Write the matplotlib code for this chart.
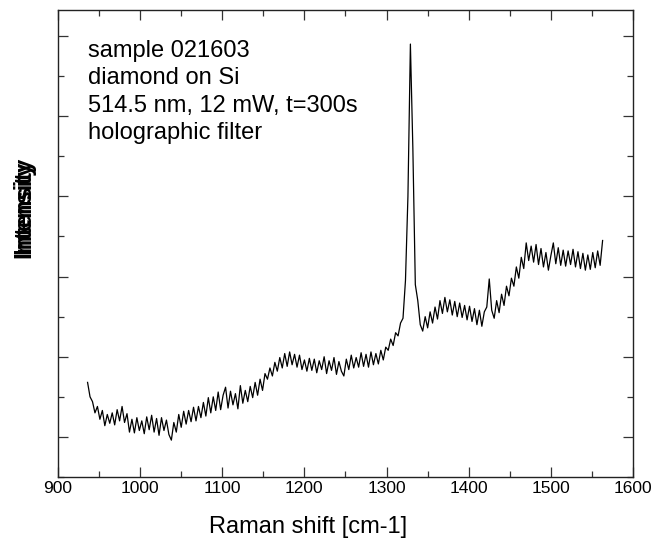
import matplotlib
matplotlib.use("Agg")
import matplotlib.pyplot as plt
from matplotlib import font_manager
from matplotlib.ticker import MultipleLocator

# ---------------- data ----------------
x_start = 936
x_step = 3
intensity = [
    0.68, 0.50, 0.44, 0.30, 0.38, 0.22, 0.33, 0.14, 0.28, 0.17,
    0.30, 0.15, 0.34, 0.20, 0.38, 0.18, 0.29, 0.06, 0.22, 0.05,
    0.24, 0.08, 0.20, 0.04, 0.25, 0.09, 0.27, 0.06, 0.23, 0.02,
    0.24, 0.08, 0.21, 0.03, -0.04, 0.18, 0.06, 0.28, 0.12,
    0.32, 0.16, 0.33, 0.19, 0.37, 0.20, 0.38, 0.24, 0.43, 0.26,
    0.49, 0.30, 0.50, 0.33, 0.56, 0.34, 0.52, 0.62, 0.36, 0.57,
    0.40, 0.54, 0.35, 0.64, 0.42, 0.58, 0.44, 0.63, 0.49, 0.68,
    0.52, 0.72, 0.58,
    0.79, 0.72, 0.86, 0.76, 0.93, 0.82, 0.99, 0.86, 1.04, 0.88,
    1.06, 0.90, 1.03, 0.87, 1.02, 0.84,
    0.96, 0.82, 0.98, 0.83, 0.97, 0.80, 0.95, 0.84, 1.00, 0.79,
    0.95, 0.83, 0.99, 0.78, 0.94, 0.82, 0.76, 0.97, 0.84, 1.02,
    0.86, 0.99, 0.87, 1.05, 0.88, 1.03, 0.87, 1.06, 0.90, 1.04,
    0.91, 1.08, 0.96,
    1.12, 1.08, 1.22, 1.14, 1.30, 1.26, 1.42, 1.48, 1.95, 3.00,
    4.90, 3.60, 1.90,
    1.70, 1.40, 1.32, 1.50, 1.36, 1.56, 1.42, 1.62, 1.47, 1.70,
    1.54, 1.74, 1.56, 1.71, 1.52, 1.69, 1.50, 1.67, 1.49, 1.64,
    1.46, 1.63, 1.44, 1.60, 1.40, 1.58, 1.38, 1.56,
    1.62, 1.97, 1.58, 1.48, 1.70, 1.55, 1.78, 1.64, 1.88, 1.76,
    1.98, 1.88, 2.12, 1.98, 2.24, 2.10,
    2.42, 2.20, 2.38, 2.18, 2.40, 2.15, 2.35, 2.12, 2.30, 2.08,
    2.26, 2.42, 2.16, 2.36, 2.14, 2.33, 2.13, 2.32, 2.15, 2.34,
    2.12, 2.31, 2.10, 2.29, 2.08, 2.27, 2.09, 2.30, 2.11, 2.32,
    2.14, 2.45,
]
raman_shift = [x_start + x_step * i for i in range(len(intensity))]

x_ticks = [900, 1000, 1100, 1200, 1300, 1400, 1500, 1600]
annotation_lines = ["sample 021603", "diamond on Si",
                    "514.5 nm, 12 mW, t=300s", "holographic filter"]
x_label = "Raman shift [cm-1]"
y_label = "Intensity"

# ---------------- fonts ----------------
installed = {f.name for f in font_manager.fontManager.ttflist}
main_font = "Liberation Sans" if "Liberation Sans" in installed else "DejaVu Sans"
narrow_font = "Liberation Sans Narrow" if "Liberation Sans Narrow" in installed else main_font

W, H = 655, 557
fig = plt.figure(figsize=(W / 100, H / 100), dpi=100)
ax = fig.add_axes([58 / W, 1 - 477 / H, (633 - 58) / W, (477 - 10) / H])

ax.plot(raman_shift, intensity, color="black", lw=0.9)

ax.set_xlim(900, 1600)
ax.set_ylim(-0.5, 5.325)
ax.set_xticks(x_ticks)
ax.xaxis.set_minor_locator(MultipleLocator(50))
ax.yaxis.set_major_locator(MultipleLocator(1))
ax.yaxis.set_minor_locator(MultipleLocator(0.5))
ax.set_yticklabels([])

ax.tick_params(which="both", direction="in", top=True, right=True,
               color="#333333", width=0.9)
ax.tick_params(which="major", length=7.5)
ax.tick_params(which="minor", length=4)
ax.tick_params(axis="x", which="major", pad=3, labelsize=12.5)
for lab in ax.get_xticklabels():
    lab.set_fontfamily(narrow_font)
for s in ax.spines.values():
    s.set_linewidth(1.0)
    s.set_color("#222222")

# annotation text block
fig.text(88 / W, 1 - 40 / H, "\n".join(annotation_lines),
         ha="left", va="top", fontsize=17, family=main_font, linespacing=1.32)

# axis labels
fig.text(308 / W, 1 - 527 / H, x_label, ha="center", va="center",
         fontsize=17, family=main_font)
# the reference shows the y label drawn twice, slightly shifted
for dy in (0, 4):
    fig.text(24 / W, 1 - (205 + dy) / H, y_label, ha="center", va="center",
             rotation=90, fontsize=17, family=narrow_font, fontweight="bold")

fig.savefig("out.png", dpi=100)
